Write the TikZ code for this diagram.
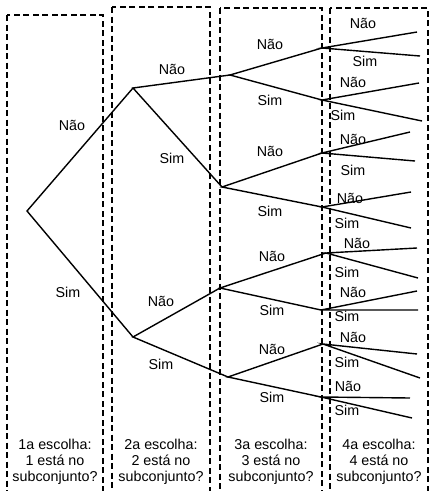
\documentclass[tikz,border=0pt]{standalone}
\usepackage{fontspec}
\setmainfont{Liberation Sans}
\begin{document}
\begin{tikzpicture}[x=1pt,y=-1pt,
  colbox/.style={draw=black,line width=1.4pt,dash pattern=on 6pt off 3.5pt},
  branch/.style={draw=black,line width=1.4pt},
  lbl/.style={inner sep=0pt,font=\fontsize{14.3}{16}\selectfont},
  captxt/.style={inner sep=0pt,align=center,font=\fontsize{14.3}{16}\selectfont}]
\useasboundingbox (0,0) rectangle (430,491);
\clip (0,0) rectangle (430,491);
% columns
\draw[colbox] (7,15) rectangle (103,500);
\draw[colbox] (112,7) rectangle (210,500);
\draw[colbox] (220,8) rectangle (322,500);
\draw[colbox] (330,8) rectangle (428,500);
% tree points
\coordinate (r) at (27,211);
\coordinate (n) at (133,88);
\coordinate (s) at (133,337);
\coordinate (nn) at (230,75);
\coordinate (ns) at (222,187);
\coordinate (sn) at (220,288);
\coordinate (ss) at (228,377);
\coordinate (nnn) at (322,48);
\coordinate (nns) at (322,100);
\coordinate (nsn) at (322,153);
\coordinate (nss) at (322,207);
\coordinate (snn) at (326,253);
\coordinate (sns) at (321,310);
\coordinate (ssn) at (323,344);
\coordinate (sss) at (321,397);
\coordinate (l1) at (417,32);
\coordinate (l2) at (420,56);
\coordinate (l3) at (419,83);
\coordinate (l4) at (422,121);
\coordinate (l5) at (410,132);
\coordinate (l6) at (415,161);
\coordinate (l7) at (411,192);
\coordinate (l8) at (411,228);
\coordinate (l9) at (417,248);
\coordinate (l10) at (418,278);
\coordinate (l11) at (417,291);
\coordinate (l12) at (418,310);
\coordinate (l13) at (417,354);
\coordinate (l14) at (420,378);
\coordinate (l15) at (410,398);
\coordinate (l16) at (412,418);
% branches
\draw[branch] (n) -- (r) -- (s);
\draw[branch] (nn) -- (n) -- (ns);
\draw[branch] (sn) -- (s) -- (ss);
\draw[branch] (nnn) -- (nn) -- (nns);
\draw[branch] (nsn) -- (ns) -- (nss);
\draw[branch] (snn) -- (sn) -- (sns);
\draw[branch] (ssn) -- (ss) -- (sss);
\draw[branch] (l1) -- (nnn) -- (l2);
\draw[branch] (l3) -- (nns) -- (l4);
\draw[branch] (l5) -- (nsn) -- (l6);
\draw[branch] (l7) -- (nss) -- (l8);
\draw[branch] (l9) -- (snn) -- (l10);
\draw[branch] (l11) -- (sns) -- (l12);
\draw[branch] (l13) -- (ssn) -- (l14);
\draw[branch] (l15) -- (sss) -- (l16);
% labels level 1
\node[lbl] (a1) at (72,125) {Não};
\node[lbl] (a2) at (68,292) {Sim};
% level 2
\node[lbl] (b1) at (172,69) {Não};
\node[lbl] (b2) at (172,158) {Sim};
\node[lbl] (b3) at (161,301) {Não};
\node[lbl] (b4) at (161,364) {Sim};
% level 3
\node[lbl] (c1) at (270,44) {Não};
\node[lbl] (c2) at (270,100) {Sim};
\node[lbl] (c3) at (270,151) {Não};
\node[lbl] (c4) at (270,211) {Sim};
\node[lbl] (c5) at (272,256) {Não};
\node[lbl] (c6) at (272,310) {Sim};
\node[lbl] (c7) at (272,349) {Não};
\node[lbl] (c8) at (272,397) {Sim};
% level 4
\node[lbl] (d1) at (363,23) {Não};
\node[lbl] (d2) at (365,61) {Sim};
\node[lbl] (d3) at (353,82) {Não};
\node[lbl] (d4) at (343,115) {Sim};
\node[lbl] (d5) at (353,139) {Não};
\node[lbl] (d6) at (353,170) {Sim};
\node[lbl] (d7) at (350,198) {Não};
\node[lbl] (d8) at (347,223) {Sim};
\node[lbl] (d9) at (357,243) {Não};
\node[lbl] (d10) at (347,272) {Sim};
\node[lbl] (d11) at (353,292) {Não};
\node[lbl] (d12) at (347,316) {Sim};
\node[lbl] (d13) at (353,337) {Não};
\node[lbl] (d14) at (347,362) {Sim};
\node[lbl] (d15) at (348,386) {Não};
\node[lbl] (d16) at (347,410) {Sim};
% captions
\node[captxt] (e1) at (55,462) {1a escolha:\\1 está no\\subconjunto?};
\node[captxt] (e2) at (161,462) {2a escolha:\\2 está no\\subconjunto?};
\node[captxt] (e3) at (271,462) {3a escolha:\\3 está no\\subconjunto?};
\node[captxt] (e4) at (379,462) {4a escolha:\\4 está no\\subconjunto?};
\end{tikzpicture}
\end{document}
